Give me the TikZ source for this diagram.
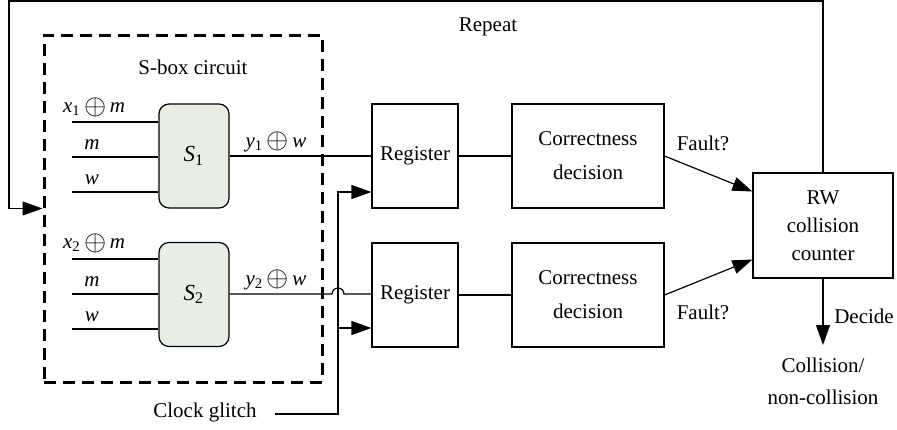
\documentclass[tikz,border=0pt]{standalone}
\usepackage{fontspec}
\setmainfont{Liberation Serif}
\usetikzlibrary{arrows.meta}
\definecolor{sfill}{RGB}{232,238,228}
\newcommand{\xorop}{\,\raisebox{-0.15ex}{\scalebox{1.3}{$\oplus$}}\,}
\begin{document}
\begin{tikzpicture}[x=0.5pt,y=-0.5pt, line width=0.6pt,
  font=\fontsize{10.5}{13}\selectfont,
  sboxst/.style={draw, fill=sfill, rounded corners=5pt, minimum width=35pt, minimum height=52pt, inner sep=0pt, font=\fontsize{11.5}{13}\selectfont},
  boxst/.style={draw, minimum height=52pt, inner sep=0pt, align=center},
  lbl/.style={inner sep=0pt},
  arr/.style={-{Triangle[length=10pt,width=7pt]}},
]
\useasboundingbox (0,0) rectangle (897,429);

% dashed S-box circuit frame
\node[draw, line width=1.5pt, dash pattern=on 6pt off 3.5pt, minimum width=139pt, minimum height=173.5pt, inner sep=0pt] (sbc) at (183,208.5) {};
\node[lbl] (sbctitle) at (193,67) {S-box circuit};

% S-boxes
\node[sboxst] (s1) at (194,156) {\itshape S\textsubscript{\upshape 1}};
\node[sboxst] (s2) at (194,294.5) {\itshape S\textsubscript{\upshape 2}};

% inputs S1
\coordinate (i1a) at (72,122);
\coordinate (i1b) at (72,157);
\coordinate (i1c) at (72,192);
\draw (i1a) -- (s1.west |- i1a);
\draw (i1b) -- (s1.west |- i1b);
\draw (i1c) -- (s1.west |- i1c);
\node[lbl] (l1a) at (94,107) {{\itshape x}\textsubscript{1}\xorop{\itshape m}};
\node[lbl] (l1b) at (92,145) {\itshape m};
\node[lbl] (l1c) at (92,180) {\itshape w};

% inputs S2
\coordinate (i2a) at (72,259);
\coordinate (i2b) at (72,294);
\coordinate (i2c) at (72,329);
\draw (i2a) -- (s2.west |- i2a);
\draw (i2b) -- (s2.west |- i2b);
\draw (i2c) -- (s2.west |- i2c);
\node[lbl] (l2a) at (94,243) {{\itshape x}\textsubscript{2}\xorop{\itshape m}};
\node[lbl] (l2b) at (92,282) {\itshape m};
\node[lbl] (l2c) at (92,317) {\itshape w};

% registers
\node[boxst, minimum width=43pt] (r1) at (415,156) {Register};
\node[boxst, minimum width=43pt] (r2) at (415,295) {Register};

% outputs
\draw (s1.east) -- (r1.west);
\node[lbl] (o1) at (276,142) {{\itshape y}\textsubscript{1}\xorop{\itshape w}};
\coordinate (hopa) at (332,294);
\draw (s2.east |- hopa) -- (hopa) arc[start angle=180, end angle=0, radius=3pt] -- (r2.west |- hopa);
\node[lbl] (o2) at (276,280) {{\itshape y}\textsubscript{2}\xorop{\itshape w}};

% clock glitch
\node[lbl] (clk) at (205,412) {Clock glitch};
\coordinate (clkstart) at (275,414);
\coordinate (clktop) at (338,192);
\coordinate (clkmid) at (338,328);
\draw[arr] (clkstart) -| (clktop) -- (r1.west |- clktop);
\draw[arr] (clkmid) -- (r2.west |- clkmid);

% correctness decision
\node[boxst, minimum width=76pt, font=\fontsize{10.5}{17}\selectfont] (c1) at (588,156) {Correctness\\decision};
\node[boxst, minimum width=76pt, font=\fontsize{10.5}{17}\selectfont] (c2) at (588,295) {Correctness\\decision};
\draw (r1.east) -- (c1.west);
\draw (r2.east |- c2.west) -- (c2.west);

% RW collision counter
\node[draw, minimum width=70pt, minimum height=52.5pt, inner sep=0pt, align=center, font=\fontsize{10.5}{14}\selectfont] (rw) at (823,225.5) {RW\\collision\\counter};
\draw[arr] (c1.east) -- ([yshift=17pt]rw.west);
\draw[arr] (c2.east) -- ([yshift=-17pt]rw.west);
\node[lbl] (f1) at (703,143) {Fault?};
\node[lbl] (f2) at (703,312) {Fault?};

% decide
\coordinate (dec) at (823,345);
\draw[arr] (rw.south) -- (dec);
\node[lbl] (dlbl) at (864,316) {Decide};
\node[lbl, align=center, font=\fontsize{10.5}{16}\selectfont] (res) at (823,381) {Collision/\\non-collision};

% repeat loop
\coordinate (rpa) at (823,1);
\coordinate (rpb) at (9,1);
\coordinate (rpc) at (9,208.5);
\draw[arr] (rw.north) -- (rpa) -- (rpb) -- (rpc) -- (sbc.west);
\node[lbl] (rep) at (488,27) {Repeat};
\end{tikzpicture}
\end{document}
